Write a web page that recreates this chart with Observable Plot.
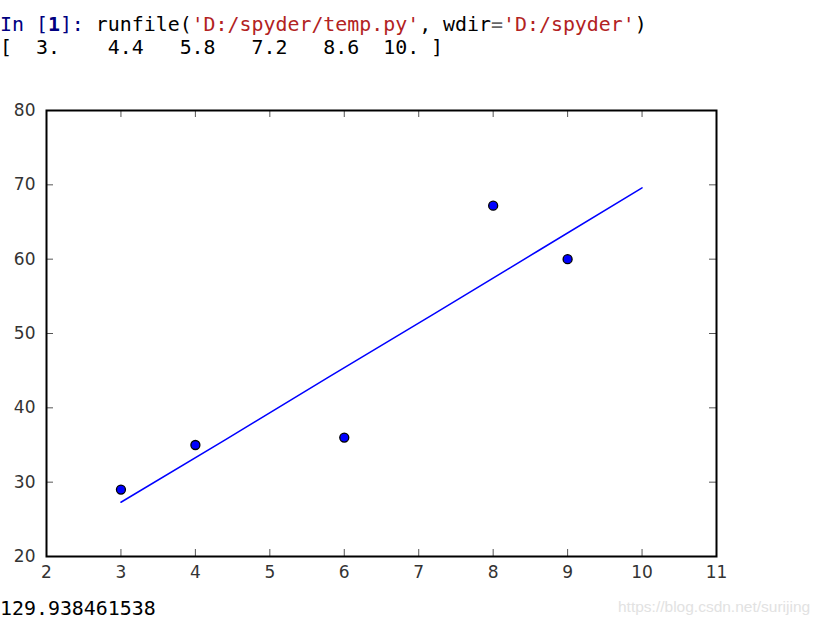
<!DOCTYPE html>
<html>
<head>
<meta charset="utf-8">
<script src="https://cdn.jsdelivr.net/npm/d3@7"></script>
<script src="https://cdn.jsdelivr.net/npm/@observablehq/plot@0.6"></script>
<style>
  html, body { margin: 0; padding: 0; background: #fff; width: 823px; height: 625px; overflow: hidden; }
  .mono { position: absolute; left: 0; font-family: "DejaVu Sans Mono", monospace; font-size: 19.9px; white-space: pre; color: #000; line-height: 1; }
  #chart { position: absolute; left: 0; top: 90px; }
  #wm { position: absolute; left: 618px; top: 598px; font-family: "Liberation Sans Narrow", "Liberation Sans", Arial, sans-serif; font-size: 15.5px; color: #e2e2e2; white-space: pre; }
</style>
</head>
<body>
<div class="mono" style="top:15px"><span style="color:#000080">In [</span><span style="color:#000080;font-weight:bold">1</span><span style="color:#000080">]: </span>runfile(<span style="color:#b22222">'D:/spyder/temp.py'</span>, wdir<span style="color:#666">=</span><span style="color:#b22222">'D:/spyder'</span>)</div>
<div class="mono" style="top:38px">[  3.    4.4   5.8   7.2   8.6  10. ]</div>
<div id="chart"></div>
<div class="mono" style="top:599px">129.938461538</div>
<div id="wm">https://blog.csdn.net/surijing</div>
<script>
// scatter data
const xs = [3, 4, 6, 8, 9];
const ys = [29, 35, 36, 67.2, 60];
// fitted line (x values printed in the console, y)
const lineX = [3, 4.4, 5.8, 7.2, 8.6, 10];
const lineY = [27.3, 35.7, 44.2, 52.6, 61.1, 69.6];
// tick labels
const xTicks = [2, 3, 4, 5, 6, 7, 8, 9, 10, 11];
const yTicks = [20, 30, 40, 50, 60, 70, 80];

const points = xs.map((x, i) => ({x, y: ys[i]}));
const fit = lineX.map((x, i) => ({x, y: lineY[i]}));

const W = 823, H = 510;
const mL = 46, mR = 107, mT = 20, mB = 44;
const pw = W - mL - mR, ph = H - mT - mB;
const tick = 7;
const tickColor = "#555";

const plot = Plot.plot({
  width: W,
  height: H,
  marginLeft: mL,
  marginRight: mR,
  marginTop: mT,
  marginBottom: mB,
  style: {fontFamily: "DejaVu Sans, sans-serif", fontSize: "17px", color: "#333", background: "white"},
  x: {domain: [2, 11], ticks: xTicks},
  y: {domain: [20, 80], ticks: yTicks},
  marks: [
    Plot.axisX(xTicks, {tickSize: 0, tickPadding: 9, label: null, fill: "#333"}),
    Plot.axisY(yTicks, {tickSize: 0, tickPadding: 11, label: null, fill: "#333"}),
    // inward ticks on all four sides
    Plot.ruleX(xTicks.slice(1, -1), {stroke: tickColor, insetTop: ph - tick}),
    Plot.ruleX(xTicks.slice(1, -1), {stroke: tickColor, insetBottom: ph - tick}),
    Plot.ruleY(yTicks.slice(1, -1), {stroke: tickColor, insetRight: pw - tick}),
    Plot.ruleY(yTicks.slice(1, -1), {stroke: tickColor, insetLeft: pw - tick}),
    Plot.line(fit, {x: "x", y: "y", stroke: "blue", strokeWidth: 1.5}),
    Plot.dot(points, {x: "x", y: "y", r: 4.5, fill: "blue", stroke: "black", strokeWidth: 1.3}),
    Plot.frame({stroke: "black", strokeWidth: 2})
  ]
});
document.getElementById("chart").appendChild(plot);
</script>
</body>
</html>
